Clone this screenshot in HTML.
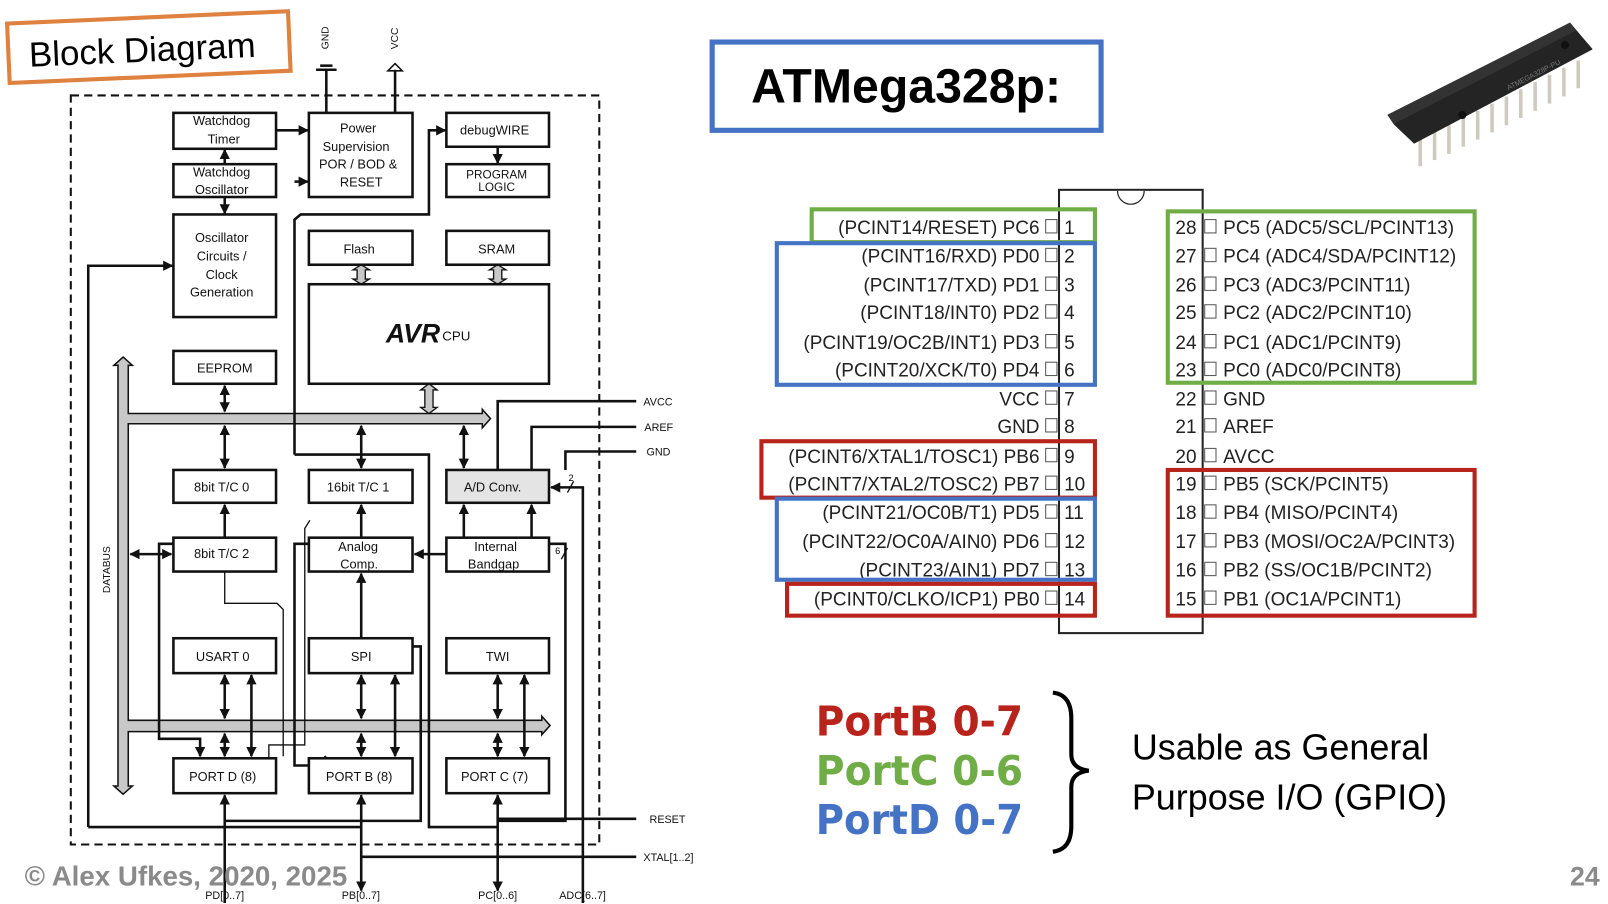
<!DOCTYPE html>
<html><head><meta charset="utf-8"><style>
html,body{margin:0;padding:0;background:#fff;}
svg{display:block;}
</style></head><body>
<svg width="1608" height="904" viewBox="0 0 1567 881" preserveAspectRatio="none" xmlns="http://www.w3.org/2000/svg" font-family="Liberation Sans, sans-serif">
<defs>
<marker id="a" viewBox="0 0 10 10" refX="9" refY="5" markerWidth="4" markerHeight="4" orient="auto-start-reverse"><path d="M0,0 L10,5 L0,10 z" fill="#111"/></marker>
</defs>

<!-- Block Diagram label -->
<g transform="rotate(-2.5 144 45)">
<rect x="8" y="17" width="274" height="58" fill="#fff" stroke="#e0823f" stroke-width="4"/>
<text x="28" y="60" font-size="34" font-family="Liberation Sans, sans-serif" fill="#000">Block Diagram</text>
</g>

<!-- GND / VCC -->
<text transform="translate(320,48) rotate(-90)" font-size="10" fill="#111">GND</text>
<text transform="translate(388,48) rotate(-90)" font-size="10" fill="#111">VCC</text>
<g stroke="#111" stroke-width="2.5" fill="none">
<line x1="318" y1="68" x2="318" y2="110"/>
<line x1="308" y1="68" x2="328" y2="68"/><line x1="312" y1="64" x2="324" y2="64"/>
<line x1="385" y1="68" x2="385" y2="110"/>
<path d="M378,69 L385,62 L392,69 z" stroke-width="1.5"/>
</g>

<!-- dashed box -->
<rect x="69" y="93" width="515" height="730" fill="none" stroke="#111" stroke-width="2" stroke-dasharray="8,5"/>

<!-- buses -->
<g fill="#c8c8c8" stroke="#111" stroke-width="1.5">
<path d="M115,356 L111,356 L120,348 L129,356 L125,356 L125,403 L470,403 L470,399 L478,408 L470,417 L470,413 L125,413 L125,702 L528,702 L528,698 L536,707 L528,716 L528,713 L125,713 L125,766 L129,766 L120,774 L111,766 L115,766 z"/>
</g>
<text transform="translate(107,578) rotate(-90)" font-size="10" fill="#111">DATABUS</text>

<!-- gray double arrows -->
<g fill="#c8c8c8" stroke="#111" stroke-width="1.3">
<path d="M348,263 L344,263 L352,258 L360,263 L356,263 L356,272 L360,272 L352,277 L344,272 L348,272 z"/>
<path d="M481,263 L477,263 L485,258 L493,263 L489,263 L489,272 L493,272 L485,277 L477,272 L481,272 z"/>
<path d="M414,380 L410,380 L418,374 L426,380 L422,380 L422,397 L426,397 L418,403 L410,397 L414,397 z"/>
</g>

<!-- wires -->
<g stroke="#111" stroke-width="2.5" fill="none">
<line x1="269" y1="127" x2="300" y2="127" marker-end="url(#a)"/>
<line x1="219" y1="160" x2="219" y2="146" marker-end="url(#a)"/>
<line x1="219" y1="192" x2="219" y2="208" marker-end="url(#a)"/>
<polyline points="86,806 86,259 168,259" marker-end="url(#a)"/>
<polyline points="86,806 352,806"/>
<polyline points="287,443 287,214 293,209 418,209 418,127 434,127" marker-end="url(#a)"/>
<polyline points="287,177 300,177" marker-end="url(#a)"/>
<polyline points="287,443 418,443 418,806 485,806"/>
<line x1="485" y1="143" x2="485" y2="159" marker-end="url(#a)"/>
<line x1="219" y1="376" x2="219" y2="401" marker-start="url(#a)" marker-end="url(#a)"/>
<line x1="219" y1="415" x2="219" y2="456" marker-start="url(#a)" marker-end="url(#a)"/>
<line x1="352" y1="415" x2="352" y2="456" marker-start="url(#a)" marker-end="url(#a)"/>
<line x1="452" y1="415" x2="452" y2="456" marker-start="url(#a)" marker-end="url(#a)"/>
<polyline points="485,458 485,391 620,391"/>
<polyline points="518,458 518,416 620,416"/>
<polyline points="551,458 551,440 620,440"/>
<polyline points="568,880 568,475 537,475" marker-end="url(#a)"/>
<line x1="452" y1="524" x2="452" y2="492" marker-end="url(#a)"/>
<line x1="435" y1="540" x2="404" y2="540" marker-end="url(#a)"/>
<polyline points="485,800 551,800 551,530 518,530 518,492" marker-end="url(#a)"/>
<line x1="127" y1="540" x2="167" y2="540" marker-start="url(#a)" marker-end="url(#a)"/>
<polyline points="195,737 195,720 155,720 155,530 219,530 219,492" marker-start="url(#a)" marker-end="url(#a)"/>
<polyline points="317,737 317,746 287,746 287,530 352,530 352,492" marker-start="url(#a)" marker-end="url(#a)"/>
<polyline points="352,559 352,630 410,630 410,800 219,800" marker-start="url(#a)"/>
<line x1="219" y1="658" x2="219" y2="700" marker-start="url(#a)" marker-end="url(#a)"/>
<line x1="219" y1="715" x2="219" y2="737" marker-start="url(#a)" marker-end="url(#a)"/>
<line x1="245" y1="658" x2="245" y2="737" marker-start="url(#a)" marker-end="url(#a)"/>
<line x1="352" y1="658" x2="352" y2="700" marker-start="url(#a)" marker-end="url(#a)"/>
<line x1="352" y1="715" x2="352" y2="737" marker-start="url(#a)" marker-end="url(#a)"/>
<line x1="385" y1="658" x2="385" y2="737" marker-start="url(#a)" marker-end="url(#a)"/>
<line x1="485" y1="658" x2="485" y2="700" marker-start="url(#a)" marker-end="url(#a)"/>
<line x1="485" y1="715" x2="485" y2="737" marker-start="url(#a)" marker-end="url(#a)"/>
<line x1="511" y1="658" x2="511" y2="737" marker-start="url(#a)" marker-end="url(#a)"/>
<line x1="219" y1="880" x2="219" y2="775" marker-end="url(#a)"/>
<line x1="352" y1="775" x2="352" y2="868" marker-start="url(#a)" marker-end="url(#a)"/>
<line x1="485" y1="775" x2="485" y2="868" marker-start="url(#a)" marker-end="url(#a)"/>
<line x1="485" y1="798" x2="620" y2="798"/>
<line x1="352" y1="835" x2="620" y2="835"/>
</g>
<g stroke="#111" stroke-width="1.3" fill="none">
<polyline points="219,557 219,588 270,588 276,594 276,737"/>
<polyline points="262,739 262,726 297,726 297,515 302,507"/>
<line x1="553" y1="480" x2="559" y2="469"/>
<line x1="547" y1="545" x2="553" y2="534"/>
</g>
<text x="554" y="469" font-size="9">2</text>
<text x="541" y="540" font-size="9">6</text>

<!-- boxes -->
<g stroke="#111" stroke-width="2.5" fill="#fff">
<rect x="169" y="110" width="100" height="35"/>
<rect x="169" y="160" width="100" height="32"/>
<rect x="169" y="209" width="100" height="100"/>
<rect x="301" y="110" width="101" height="82"/>
<rect x="435" y="110" width="100" height="33"/>
<rect x="435" y="160" width="100" height="32"/>
<rect x="301" y="225" width="101" height="33"/>
<rect x="435" y="225" width="100" height="33"/>
<rect x="301" y="277" width="234" height="97"/>
<rect x="169" y="342" width="100" height="32"/>
<rect x="169" y="458" width="100" height="32"/>
<rect x="301" y="458" width="101" height="32"/>
<rect x="435" y="458" width="100" height="32" fill="#e4e4e4"/>
<rect x="169" y="524" width="100" height="33"/>
<rect x="301" y="524" width="101" height="33"/>
<rect x="435" y="524" width="100" height="33"/>
<rect x="169" y="622" width="100" height="34"/>
<rect x="301" y="622" width="101" height="34"/>
<rect x="435" y="622" width="100" height="34"/>
<rect x="169" y="739" width="100" height="34"/>
<rect x="301" y="739" width="101" height="34"/>
<rect x="435" y="739" width="100" height="34"/>
</g>
<g font-size="12.5" fill="#111" text-anchor="middle">
<text x="216" y="122">Watchdog</text><text x="218" y="140">Timer</text>
<text x="216" y="172">Watchdog</text><text x="216" y="189">Oscillator</text>
<text x="216" y="236">Oscillator</text><text x="216" y="254">Circuits /</text><text x="216" y="272">Clock</text><text x="216" y="289">Generation</text>
<text x="349" y="129">Power</text><text x="347" y="147">Supervision</text><text x="349" y="164">POR / BOD &amp;</text><text x="352" y="182">RESET</text>
<text x="482" y="131">debugWIRE</text>
<text x="484" y="174" font-size="11.5">PROGRAM</text><text x="484" y="186" font-size="11.5">LOGIC</text>
<text x="350" y="247">Flash</text><text x="484" y="247">SRAM</text>
<text x="219" y="363">EEPROM</text>
<text x="216" y="479">8bit T/C 0</text><text x="349" y="479">16bit T/C 1</text><text x="480" y="479">A/D Conv.</text>
<text x="216" y="544">8bit T/C 2</text>
<text x="349" y="537">Analog</text><text x="350" y="554">Comp.</text>
<text x="483" y="537">Internal</text><text x="481" y="554">Bandgap</text>
<text x="217" y="644">USART 0</text><text x="352" y="644">SPI</text><text x="485" y="644">TWI</text>
<text x="217" y="761">PORT D (8)</text><text x="350" y="761">PORT B (8)</text><text x="482" y="761">PORT C (7)</text>
</g>
<text x="376" y="334" font-size="26" font-weight="bold" font-style="italic" fill="#111">AVR</text>
<text x="431" y="332" font-size="13" fill="#111">CPU</text>
<g font-size="10.5" fill="#111">
<text x="627" y="395">AVCC</text><text x="628" y="420">AREF</text><text x="630" y="444">GND</text>
<text x="633" y="802">RESET</text><text x="627" y="839">XTAL[1..2]</text>
<text x="200" y="876">PD[0..7]</text><text x="333" y="876">PB[0..7]</text><text x="466" y="876">PC[0..6]</text><text x="545" y="876">ADC[6..7]</text>
</g>

<text x="24" y="863" font-size="27" font-weight="bold" fill="#8a8a8a">© Alex Ufkes, 2020, 2025</text>
<text x="1530" y="863" font-size="26" font-weight="bold" fill="#8a8a8a">24</text>

<!-- Title -->
<rect x="694" y="41" width="379" height="86" fill="none" stroke="#4472c4" stroke-width="5"/>
<text x="732" y="100" font-size="47" font-weight="bold" fill="#000">ATMega328p:</text>

<!-- chip photo -->
<g>
<g stroke="#cfcac0" stroke-width="3.5">
<line x1="1384" y1="136" x2="1384" y2="162"/><line x1="1398" y1="129" x2="1398" y2="156"/>
<line x1="1412" y1="122" x2="1412" y2="150"/><line x1="1426" y1="115" x2="1426" y2="143"/>
<line x1="1440" y1="108" x2="1440" y2="136"/><line x1="1454" y1="101" x2="1454" y2="129"/>
<line x1="1468" y1="94" x2="1468" y2="122"/><line x1="1482" y1="87" x2="1482" y2="115"/>
<line x1="1496" y1="80" x2="1496" y2="108"/><line x1="1510" y1="73" x2="1510" y2="101"/>
<line x1="1524" y1="66" x2="1524" y2="94"/><line x1="1538" y1="59" x2="1538" y2="86"/>
</g>
<polygon points="1352,112 1530,22 1552,48 1378,140" fill="#1e1e1e"/>
<polygon points="1352,112 1530,22 1536,30 1358,121" fill="#333"/>
<polygon points="1358,121 1536,30 1552,48 1378,140" fill="#242424"/>
<circle cx="1425" cy="112" r="4" fill="#111"/>
<circle cx="1525" cy="44" r="4" fill="#111"/>
<text x="0" y="0" font-size="7" fill="#777" transform="translate(1470,88) rotate(-27)">ATMEGA328P-PU</text>
</g>

<!-- pin diagram -->
<rect x="1032" y="185" width="140" height="432" fill="none" stroke="#222" stroke-width="2"/>
<path d="M1089,186 A13,13 0 0 0 1115,186" fill="#fff" stroke="#222" stroke-width="1.2"/>
<g font-size="18.5" fill="#222" font-family="Liberation Sans Narrow, Liberation Sans, sans-serif">
<g text-anchor="end">
<text x="1013" y="228">(PCINT14/RESET) PC6</text>
<text x="1013" y="256">(PCINT16/RXD) PD0</text>
<text x="1013" y="284">(PCINT17/TXD) PD1</text>
<text x="1013" y="311">(PCINT18/INT0) PD2</text>
<text x="1013" y="340">(PCINT19/OC2B/INT1) PD3</text>
<text x="1013" y="367">(PCINT20/XCK/T0) PD4</text>
<text x="1013" y="395">VCC</text>
<text x="1013" y="422">GND</text>
<text x="1013" y="451">(PCINT6/XTAL1/TOSC1) PB6</text>
<text x="1013" y="478">(PCINT7/XTAL2/TOSC2) PB7</text>
<text x="1013" y="506">(PCINT21/OC0B/T1) PD5</text>
<text x="1013" y="534">(PCINT22/OC0A/AIN0) PD6</text>
<text x="1013" y="562">(PCINT23/AIN1) PD7</text>
<text x="1013" y="590">(PCINT0/CLKO/ICP1) PB0</text>
<text x="1166" y="228">28</text><text x="1166" y="256">27</text><text x="1166" y="284">26</text><text x="1166" y="311">25</text>
<text x="1166" y="340">24</text><text x="1166" y="367">23</text><text x="1166" y="395">22</text><text x="1166" y="422">21</text>
<text x="1166" y="451">20</text><text x="1166" y="478">19</text><text x="1166" y="506">18</text><text x="1166" y="534">17</text>
<text x="1166" y="562">16</text><text x="1166" y="590">15</text>
</g>
<text x="1037" y="228">1</text><text x="1037" y="256">2</text><text x="1037" y="284">3</text><text x="1037" y="311">4</text>
<text x="1037" y="340">5</text><text x="1037" y="367">6</text><text x="1037" y="395">7</text><text x="1037" y="422">8</text>
<text x="1037" y="451">9</text><text x="1037" y="478">10</text><text x="1037" y="506">11</text><text x="1037" y="534">12</text>
<text x="1037" y="562">13</text><text x="1037" y="590">14</text>
<text x="1192" y="228">PC5 (ADC5/SCL/PCINT13)</text>
<text x="1192" y="256">PC4 (ADC4/SDA/PCINT12)</text>
<text x="1192" y="284">PC3 (ADC3/PCINT11)</text>
<text x="1192" y="311">PC2 (ADC2/PCINT10)</text>
<text x="1192" y="340">PC1 (ADC1/PCINT9)</text>
<text x="1192" y="367">PC0 (ADC0/PCINT8)</text>
<text x="1192" y="395">GND</text>
<text x="1192" y="422">AREF</text>
<text x="1192" y="451">AVCC</text>
<text x="1192" y="478">PB5 (SCK/PCINT5)</text>
<text x="1192" y="506">PB4 (MISO/PCINT4)</text>
<text x="1192" y="534">PB3 (MOSI/OC2A/PCINT3)</text>
<text x="1192" y="562">PB2 (SS/OC1B/PCINT2)</text>
<text x="1192" y="590">PB1 (OC1A/PCINT1)</text>
</g>
<g fill="none" stroke="#555" stroke-width="1">
<rect x="1019" y="214" width="11" height="13"/><rect x="1019" y="242" width="11" height="13"/><rect x="1019" y="270" width="11" height="13"/>
<rect x="1019" y="297" width="11" height="13"/><rect x="1019" y="326" width="11" height="13"/><rect x="1019" y="353" width="11" height="13"/>
<rect x="1019" y="381" width="11" height="13"/><rect x="1019" y="408" width="11" height="13"/><rect x="1019" y="437" width="11" height="13"/>
<rect x="1019" y="464" width="11" height="13"/><rect x="1019" y="492" width="11" height="13"/><rect x="1019" y="520" width="11" height="13"/>
<rect x="1019" y="548" width="11" height="13"/><rect x="1019" y="576" width="11" height="13"/>
<rect x="1174" y="214" width="11" height="13"/><rect x="1174" y="242" width="11" height="13"/><rect x="1174" y="270" width="11" height="13"/>
<rect x="1174" y="297" width="11" height="13"/><rect x="1174" y="326" width="11" height="13"/><rect x="1174" y="353" width="11" height="13"/>
<rect x="1174" y="381" width="11" height="13"/><rect x="1174" y="408" width="11" height="13"/><rect x="1174" y="437" width="11" height="13"/>
<rect x="1174" y="464" width="11" height="13"/><rect x="1174" y="492" width="11" height="13"/><rect x="1174" y="520" width="11" height="13"/>
<rect x="1174" y="548" width="11" height="13"/><rect x="1174" y="576" width="11" height="13"/>
</g>
<g fill="none" stroke-width="4">
<rect x="791" y="204" width="276" height="32" stroke="#70ad47"/>
<rect x="757" y="237" width="310" height="138" stroke="#4472c4"/>
<rect x="742" y="430" width="325" height="55" stroke="#b8231b"/>
<rect x="757" y="486" width="310" height="79" stroke="#4472c4"/>
<rect x="767" y="569" width="300" height="31" stroke="#b8231b"/>
<rect x="1138" y="206" width="299" height="167" stroke="#70ad47"/>
<rect x="1138" y="458" width="299" height="142" stroke="#b8231b"/>
</g>

<!-- Port legend -->
<g font-size="40" font-weight="bold" font-family="DejaVu Sans, Liberation Sans, sans-serif">
<text x="795" y="717" fill="#b8231b" textLength="202" lengthAdjust="spacingAndGlyphs">PortB 0-7</text>
<text x="795" y="765" fill="#70ad47" textLength="202" lengthAdjust="spacingAndGlyphs">PortC 0-6</text>
<text x="795" y="813" fill="#4472c4" textLength="202" lengthAdjust="spacingAndGlyphs">PortD 0-7</text>
</g>
<path d="M1026,675 Q1044,677 1044,700 L1044,735 Q1044,749 1061,751 Q1044,753 1044,767 L1044,805 Q1044,828 1026,830" fill="none" stroke="#000" stroke-width="4"/>
<text x="1103" y="740" font-size="35" fill="#000">Usable as General</text>
<text x="1103" y="789" font-size="35" fill="#000">Purpose I/O (GPIO)</text>
</svg>
</body></html>
